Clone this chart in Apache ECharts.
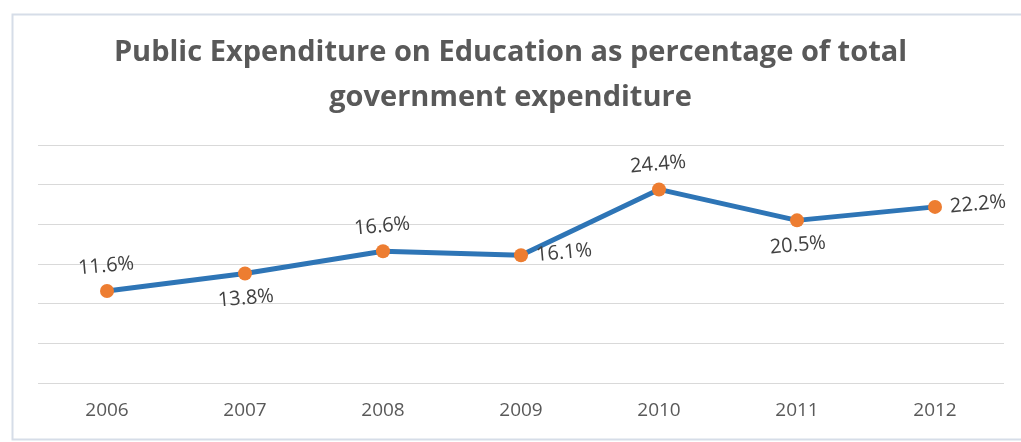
<!DOCTYPE html>
<html>
<head>
<meta charset="utf-8">
<script src="https://cdn.jsdelivr.net/npm/echarts@6/dist/echarts.min.js"></script>
<style>html,body{margin:0;padding:0;background:#fff;}#c{width:1021px;height:442px;}</style>
</head>
<body>
<div id="c"></div>
<script>
const years = ['2006','2007','2008','2009','2010','2011','2012'];
const values = [11.6, 13.8, 16.6, 16.1, 24.4, 20.5, 22.2];
const labelPos = ['top','bottom','top','right','top','bottom','right'];
const titleText = 'Public Expenditure on Education as percentage of total\ngovernment expenditure';

const chart = echarts.init(document.getElementById('c'));
chart.setOption({
  animation: false,
  backgroundColor: '#fff',
  graphic: [{
    type: 'rect', left: 10, top: 12, z: -1,
    shape: { width: 1020, height: 425 },
    style: { fill: 'none', stroke: '#d6dde8', lineWidth: 2 }
  }],
  title: {
    text: titleText, left: 'center', top: 25,
    textStyle: { fontFamily: 'Open Sans', fontWeight: 'bold', fontSize: 29, color: '#595959', lineHeight: 45 }
  },
  grid: { left: 38, right: 17, top: 145, bottom: 59 },
  xAxis: {
    type: 'category', data: years, boundaryGap: true,
    axisLine: { show: false }, axisTick: { show: false },
    axisLabel: { fontFamily: 'Open Sans', fontSize: 19, color: '#595959', margin: 18 }
  },
  yAxis: {
    type: 'value', min: 0, max: 30, interval: 5,
    axisLabel: { show: false }, axisLine: { show: false }, axisTick: { show: false },
    splitLine: { lineStyle: { color: '#d9d9d9', width: 1 } }
  },
  series: [{
    type: 'line',
    data: values.map((v, i) => ({ value: v, label: { position: labelPos[i] } })),
    lineStyle: { color: '#2e75b6', width: 5 },
    itemStyle: { color: '#ed7d31' },
    symbol: 'circle', symbolSize: 14,
    label: {
      show: true, formatter: p => p.value.toFixed(1) + '%',
      fontFamily: 'Open Sans', fontSize: 20, color: '#404040', distance: 8, rotate: 5
    }
  }]
});
</script>
</body>
</html>
